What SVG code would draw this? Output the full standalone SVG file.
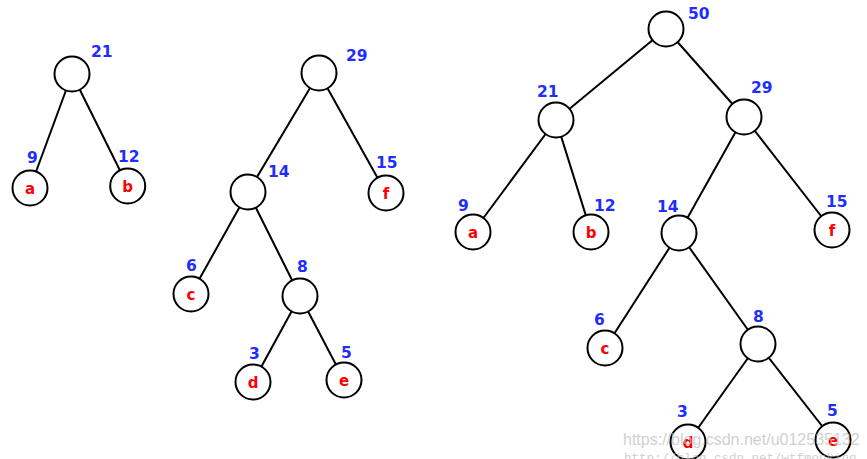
<svg xmlns="http://www.w3.org/2000/svg" width="867" height="459" viewBox="0 0 867 459">
<style>
.edge{stroke:#000;stroke-width:2;fill:none}
.node circle{fill:#fff;stroke:#000;stroke-width:2}
.w{font-family:"DejaVu Sans",Verdana,sans-serif;font-weight:bold;font-size:15.5px;fill:#1f2eff}
.lt{font-family:"DejaVu Sans",Verdana,sans-serif;font-weight:bold;font-size:15px;fill:#ff0000;text-anchor:middle}
.wm{font-family:"Liberation Sans",Arial,sans-serif;font-size:16px;fill:#bdbdbd;opacity:0.7}
.wm2{font-family:"Liberation Mono","Courier New",monospace;font-size:12.5px;fill:#bdbdbd;opacity:0.7}
</style>
<rect width="867" height="459" fill="#fff"/>
<g id="connectors">
<line class="edge" x1="72" y1="74" x2="30" y2="188"/>
<line class="edge" x1="72" y1="74" x2="127.7" y2="186"/>
<line class="edge" x1="319" y1="73" x2="248" y2="192"/>
<line class="edge" x1="319" y1="73" x2="386" y2="193"/>
<line class="edge" x1="248" y1="192" x2="191" y2="294"/>
<line class="edge" x1="248" y1="192" x2="300" y2="296"/>
<line class="edge" x1="300" y1="296" x2="253" y2="382"/>
<line class="edge" x1="300" y1="296" x2="344" y2="380"/>
<line class="edge" x1="666" y1="29" x2="556" y2="120"/>
<line class="edge" x1="666" y1="29" x2="744" y2="117"/>
<line class="edge" x1="556" y1="120" x2="473" y2="232"/>
<line class="edge" x1="556" y1="120" x2="591" y2="232"/>
<line class="edge" x1="744" y1="117" x2="679" y2="233"/>
<line class="edge" x1="744" y1="117" x2="832" y2="230"/>
<line class="edge" x1="679" y1="233" x2="605" y2="348"/>
<line class="edge" x1="679" y1="233" x2="758" y2="344"/>
<line class="edge" x1="758" y1="344" x2="688" y2="442"/>
<line class="edge" x1="758" y1="344" x2="833" y2="440"/>
</g>
<g id="L21" class="node"><circle cx="72" cy="74" r="17.5"/><text class="w" x="91" y="57">21</text></g>
<g id="La" class="node"><circle cx="30" cy="188" r="17.5"/><text class="lt" x="30" y="193.5">a</text><text class="w" x="27" y="163">9</text></g>
<g id="Lb" class="node"><circle cx="127.7" cy="186" r="17.5"/><text class="lt" x="127.7" y="191.5">b</text><text class="w" x="118" y="162">12</text></g>
<g id="M29" class="node"><circle cx="319" cy="73" r="17.5"/><text class="w" x="346" y="61">29</text></g>
<g id="M14" class="node"><circle cx="248" cy="192" r="17.5"/><text class="w" x="268" y="177">14</text></g>
<g id="Mf" class="node"><circle cx="386" cy="193" r="17.5"/><text class="lt" x="386" y="198.5">f</text><text class="w" x="376" y="168">15</text></g>
<g id="Mc" class="node"><circle cx="191" cy="294" r="17.5"/><text class="lt" x="191" y="299.5">c</text><text class="w" x="186" y="271">6</text></g>
<g id="M8" class="node"><circle cx="300" cy="296" r="17.5"/><text class="w" x="297" y="272">8</text></g>
<g id="Md" class="node"><circle cx="253" cy="382" r="17.5"/><text class="lt" x="253" y="387.5">d</text><text class="w" x="249" y="359">3</text></g>
<g id="Me" class="node"><circle cx="344" cy="380" r="17.5"/><text class="lt" x="344" y="385.5">e</text><text class="w" x="341" y="358">5</text></g>
<g id="R50" class="node"><circle cx="666" cy="29" r="17.5"/><text class="w" x="688" y="19">50</text></g>
<g id="R21" class="node"><circle cx="556" cy="120" r="17.5"/><text class="w" x="537" y="97">21</text></g>
<g id="R29" class="node"><circle cx="744" cy="117" r="17.5"/><text class="w" x="751" y="93">29</text></g>
<g id="Ra" class="node"><circle cx="473" cy="232" r="17.5"/><text class="lt" x="473" y="237.5">a</text><text class="w" x="458" y="211">9</text></g>
<g id="Rb" class="node"><circle cx="591" cy="232" r="17.5"/><text class="lt" x="591" y="237.5">b</text><text class="w" x="594" y="211">12</text></g>
<g id="R14" class="node"><circle cx="679" cy="233" r="17.5"/><text class="w" x="657" y="212">14</text></g>
<g id="Rf" class="node"><circle cx="832" cy="230" r="17.5"/><text class="lt" x="832" y="235.5">f</text><text class="w" x="826" y="207">15</text></g>
<g id="Rc" class="node"><circle cx="605" cy="348" r="17.5"/><text class="lt" x="605" y="353.5">c</text><text class="w" x="594" y="325">6</text></g>
<g id="R8" class="node"><circle cx="758" cy="344" r="17.5"/><text class="w" x="753" y="322">8</text></g>
<g id="Rd" class="node"><circle cx="688" cy="442" r="17.5"/><text class="lt" x="688" y="447.5">d</text><text class="w" x="677" y="417">3</text></g>
<g id="Re" class="node"><circle cx="833" cy="440" r="17.5"/><text class="lt" x="833" y="445.5">e</text><text class="w" x="827" y="416">5</text></g>
<g id="watermark">
<text class="wm" x="623" y="445">https://blog.csdn.net/u012535132</text>
<text class="wm2" x="624" y="462">http://blog.csdn.net/wtfmonking</text>
</g>
</svg>
